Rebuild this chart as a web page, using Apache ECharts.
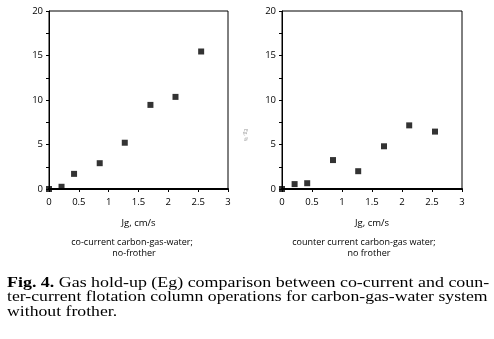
<!DOCTYPE html>
<html>
<head>
<meta charset="utf-8">
<script src="https://cdn.jsdelivr.net/npm/echarts@6/dist/echarts.min.js"></script>
<style>
html, body { margin: 0; padding: 0; background: #fff; }
#main { width: 494px; height: 339px; }
</style>
</head>
<body>
<div id="main"></div>
<script>
var chart = echarts.init(document.getElementById('main'));

// Jg, cm/s
var jg = [0, 0.21, 0.42, 0.85, 1.27, 1.7, 2.12, 2.55];
// Eg, % co-current
var egCo = [0, 0.25, 1.7, 2.9, 5.2, 9.45, 10.35, 15.45];
// Eg, % counter-current
var egCounter = [0, 0.55, 0.65, 3.25, 2.0, 4.8, 7.15, 6.45];

var xTicks = [0, 0.5, 1, 1.5, 2, 2.5, 3];
var yTicks = [0, 5, 10, 15, 20];

function pairs(xs, ys) {
    return xs.map(function (x, i) { return [x, ys[i]]; });
}

var tickFont = { fontFamily: 'Open Sans', fontSize: 9.5, color: '#000' };

function xAxisOpt(idx) {
    return {
        type: 'value',
        gridIndex: idx,
        min: xTicks[0],
        max: xTicks[xTicks.length - 1],
        interval: 0.5,
        axisLine: { lineStyle: { color: '#000', width: 2 } },
        axisTick: { length: 3, lineStyle: { color: '#000' } },
        axisLabel: Object.assign({ margin: 8 }, tickFont),
        splitLine: { show: false },
        name: 'Jg, cm/s',
        nameLocation: 'middle',
        nameGap: 29,
        nameTextStyle: { fontFamily: 'Open Sans', fontSize: 9.5, color: '#000' }
    };
}

function yAxisOpt(idx) {
    return {
        type: 'value',
        gridIndex: idx,
        min: yTicks[0],
        max: yTicks[yTicks.length - 1],
        interval: 5,
        axisLine: { lineStyle: { color: '#000', width: 1 } },
        axisTick: { length: 3, lineStyle: { color: '#000' } },
        minorTick: { show: true, splitNumber: 2, length: 3, lineStyle: { color: '#000' } },
        axisLabel: Object.assign({ margin: 6 }, tickFont),
        splitLine: { show: false }
    };
}

var sub = '9px "Open Sans"';
var cap = '14px "Liberation Serif"';

var option = {
    animation: false,
    backgroundColor: '#fff',
    grid: [
        { left: 49, right: 266, top: 11, bottom: 150, show: true, borderColor: '#000', borderWidth: 1 },
        { left: 282, right: 32, top: 11, bottom: 150, show: true, borderColor: '#000', borderWidth: 1 }
    ],
    xAxis: [xAxisOpt(0), xAxisOpt(1)],
    yAxis: [yAxisOpt(0), yAxisOpt(1)],
    series: [
        {
            name: 'co-current',
            type: 'scatter',
            xAxisIndex: 0,
            yAxisIndex: 0,
            symbol: 'rect',
            symbolSize: 6,
            itemStyle: { color: '#000' },
            data: pairs(jg, egCo)
        },
        {
            name: 'counter current',
            type: 'scatter',
            xAxisIndex: 1,
            yAxisIndex: 1,
            symbol: 'rect',
            symbolSize: 6,
            itemStyle: { color: '#000' },
            data: pairs(jg, egCounter)
        }
    ],
    graphic: [
        {
            type: 'text', x: 245, y: 135, rotation: -Math.PI / 2,
            style: { text: 'Eg, %', font: '5px "Open Sans"', fill: '#999', align: 'center', verticalAlign: 'middle' }
        },
        {
            type: 'text', x: 132, y: 242,
            style: { text: 'co-current carbon-gas-water;', font: sub, fill: '#000', align: 'center', verticalAlign: 'middle' }
        },
        {
            type: 'text', x: 134, y: 253,
            style: { text: 'no-frother', font: sub, fill: '#000', align: 'center', verticalAlign: 'middle' }
        },
        {
            type: 'text', x: 364, y: 242,
            style: { text: 'counter current carbon-gas water;', font: sub, fill: '#000', align: 'center', verticalAlign: 'middle' }
        },
        {
            type: 'text', x: 369, y: 253,
            style: { text: 'no frother', font: sub, fill: '#000', align: 'center', verticalAlign: 'middle' }
        },
        {
            type: 'text', x: 7, y: 283, scaleX: 1.28,
            style: {
                text: '{b|Fig. 4.} Gas hold-up (Eg) comparison between co-current and coun-',
                font: cap, fill: '#000', verticalAlign: 'middle',
                rich: { b: { fontWeight: 'bold', fontSize: 14, fontFamily: 'Liberation Serif' } }
            }
        },
        {
            type: 'text', x: 7, y: 297.5, scaleX: 1.265,
            style: { text: 'ter-current flotation column operations for carbon-gas-water system', font: cap, fill: '#000', verticalAlign: 'middle' }
        },
        {
            type: 'text', x: 7, y: 312, scaleX: 1.265,
            style: { text: 'without frother.', font: cap, fill: '#000', verticalAlign: 'middle' }
        }
    ]
};

chart.setOption(option);
</script>
</body>
</html>
